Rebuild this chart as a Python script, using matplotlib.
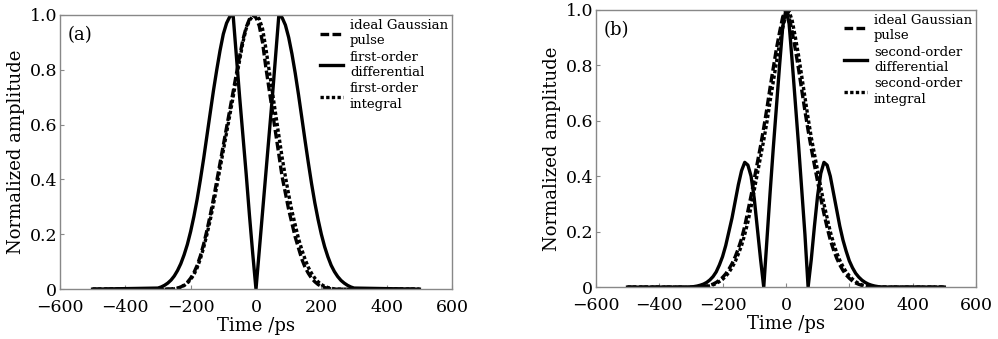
import numpy as np
import matplotlib
matplotlib.use('Agg')
import matplotlib.pyplot as plt
from matplotlib.ticker import FuncFormatter

plt.rcParams['font.family'] = ['DejaVu Serif']
plt.rcParams['axes.unicode_minus'] = True

# time axis (ps): far ends plus a 10 ps grid over the pulse
time = np.r_[-500, np.arange(-300, 301, 10), 500]

# panel (a)
gauss_a = [0,
           0, 0, 0, 0, 0.001, 0.002, 0.004, 0.008, 0.015, 0.025,
           0.04, 0.06, 0.087, 0.122, 0.165, 0.215, 0.27, 0.33, 0.395, 0.46,
           0.525, 0.59, 0.655, 0.72, 0.785, 0.85, 0.91, 0.955, 0.985, 1.0,
           0.99,
           0.96, 0.90, 0.81, 0.73, 0.65, 0.57, 0.49, 0.41, 0.35, 0.29,
           0.24, 0.19, 0.15, 0.11, 0.08, 0.058, 0.04, 0.027, 0.017, 0.01,
           0.006, 0.003, 0.001, 0, 0, 0, 0, 0, 0, 0,
           0]
diff1_a = [0,
           0.004, 0.008, 0.014, 0.022, 0.033, 0.048, 0.068, 0.093, 0.125, 0.163,
           0.21, 0.265, 0.328, 0.40, 0.477, 0.56, 0.643, 0.725, 0.80, 0.87,
           0.93, 0.97, 0.994, 1.0, 0.85, 0.70, 0.56, 0.42, 0.27, 0.13,
           0.0,
           0.14, 0.28, 0.42, 0.56, 0.70, 0.85, 1.0, 0.99, 0.963, 0.918,
           0.858, 0.788, 0.71, 0.627, 0.543, 0.462, 0.385, 0.315, 0.254, 0.20,
           0.155, 0.118, 0.087, 0.064, 0.046, 0.032, 0.022, 0.014, 0.008, 0.004,
           0]
integ1_a = [0,
            0, 0, 0, 0, 0, 0.001, 0.003, 0.007, 0.013, 0.022,
            0.035, 0.053, 0.078, 0.111, 0.152, 0.20, 0.252, 0.31, 0.375, 0.44,
            0.505, 0.57, 0.635, 0.70, 0.77, 0.835, 0.90, 0.95, 0.98, 0.995,
            1.0,
            0.985, 0.95, 0.88, 0.80, 0.72, 0.64, 0.56, 0.48, 0.41, 0.345,
            0.285, 0.235, 0.185, 0.145, 0.11, 0.08, 0.058, 0.04, 0.027, 0.017,
            0.01, 0.006, 0.003, 0.001, 0, 0, 0, 0, 0, 0,
            0]

# panel (b)
gauss_b = [0,
           0, 0, 0, 0.001, 0.002, 0.004, 0.007, 0.011, 0.017, 0.025,
           0.035, 0.048, 0.065, 0.085, 0.11, 0.14, 0.175, 0.22, 0.275, 0.33,
           0.39, 0.45, 0.51, 0.575, 0.645, 0.72, 0.79, 0.86, 0.92, 0.975,
           1.0,
           0.975, 0.92, 0.855, 0.785, 0.71, 0.635, 0.565, 0.50, 0.44, 0.38,
           0.32, 0.265, 0.215, 0.17, 0.135, 0.105, 0.08, 0.06, 0.044, 0.032,
           0.022, 0.015, 0.01, 0.006, 0.003, 0.001, 0, 0, 0, 0,
           0]
diff2_b = [0,
           0, 0.002, 0.004, 0.007, 0.011, 0.017, 0.026, 0.038, 0.055, 0.08,
           0.11, 0.15, 0.20, 0.25, 0.31, 0.37, 0.42, 0.45, 0.44, 0.40,
           0.32, 0.21, 0.10, 0.0, 0.17, 0.34, 0.50, 0.65, 0.80, 0.94,
           1.0,
           0.95, 0.81, 0.66, 0.51, 0.35, 0.19, 0.0, 0.10, 0.22, 0.33,
           0.41, 0.45, 0.44, 0.40, 0.34, 0.28, 0.22, 0.17, 0.13, 0.095,
           0.07, 0.05, 0.036, 0.025, 0.017, 0.011, 0.007, 0.004, 0.002, 0,
           0]
integ2_b = [0,
            0, 0, 0, 0, 0.001, 0.003, 0.005, 0.008, 0.013, 0.02,
            0.028, 0.039, 0.053, 0.071, 0.092, 0.12, 0.15, 0.19, 0.235, 0.29,
            0.35, 0.41, 0.47, 0.53, 0.595, 0.67, 0.74, 0.81, 0.88, 0.935,
            0.985,
            0.995, 0.96, 0.90, 0.835, 0.76, 0.685, 0.61, 0.54, 0.48, 0.42,
            0.36, 0.30, 0.25, 0.20, 0.16, 0.125, 0.097, 0.074, 0.055, 0.041,
            0.029, 0.02, 0.013, 0.008, 0.005, 0.002, 0.001, 0, 0, 0,
            0]

labels_a = ['ideal Gaussian\npulse', 'first-order\ndifferential', 'first-order\nintegral']
labels_b = ['ideal Gaussian\npulse', 'second-order\ndifferential', 'second-order\nintegral']
xticks = [-600, -400, -200, 0, 200, 400, 600]
yticks = [0, 0.2, 0.4, 0.6, 0.8, 1.0]

fig = plt.figure(figsize=(9.98, 3.39), dpi=100)
ax_a = fig.add_axes([0.060, 0.147, 0.393, 0.809])
ax_b = fig.add_axes([0.597, 0.153, 0.381, 0.818])


def ylab(v, pos):
    return '0' if v == 0 else '%.1f' % v


def style(ax, tag, curves, labels):
    g, d, i = curves
    ax.plot(time, g, color='black', lw=2.4, dashes=(2.6, 1.0), label=labels[0])
    ax.plot(time, d, color='black', lw=2.4, label=labels[1])
    ax.plot(time, i, color='black', lw=2.4, dashes=(1.0, 0.7), label=labels[2])
    ax.set_xlim(-600, 600)
    ax.set_ylim(0, 1)
    ax.set_xticks(xticks)
    ax.set_yticks(yticks)
    ax.yaxis.set_major_formatter(FuncFormatter(ylab))
    ax.tick_params(direction='in', length=3, color='#888888', labelsize=12.5, pad=2)
    ax.tick_params(axis='x', pad=7)
    for s in ax.spines.values():
        s.set_color('#888888')
        s.set_linewidth(1.0)
    ax.set_xlabel('Time /ps', fontsize=13, labelpad=0.5)
    ax.set_ylabel('Normalized amplitude', fontsize=13, labelpad=3)
    ax.text(0.02, 0.96, tag, transform=ax.transAxes, fontsize=13, va='top', ha='left')
    leg = ax.legend(loc='upper right', frameon=False, fontsize=9.5, handlelength=1.8,
                    handletextpad=0.5, labelspacing=0.25, borderaxespad=0.1,
                    borderpad=0.2)
    for t in leg.get_texts():
        t.set_linespacing(1.25)


style(ax_a, '(a)', (gauss_a, diff1_a, integ1_a), labels_a)
style(ax_b, '(b)', (gauss_b, diff2_b, integ2_b), labels_b)

fig.savefig('out.png', dpi=100)
